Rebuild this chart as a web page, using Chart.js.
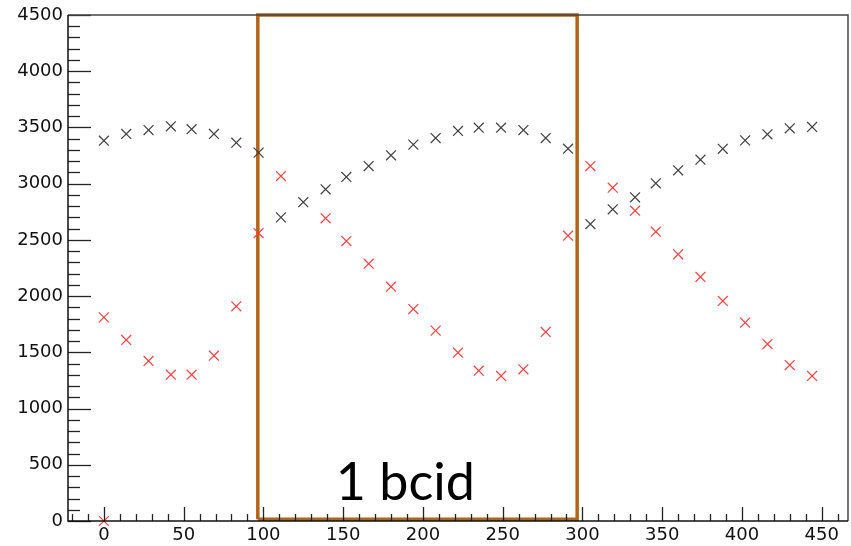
<!DOCTYPE html>
<html>
<head>
<meta charset="utf-8">
<script src="https://cdn.jsdelivr.net/npm/chart.js@4/dist/chart.umd.min.js"></script>
<style>
html,body{margin:0;padding:0;background:#fff;}
#wrap{width:851px;height:546px;position:relative;}
</style>
</head>
<body>
<div id="wrap"><canvas id="c" width="851" height="546"></canvas></div>
<script>
// ---- data ----
const blackX = [0,14,28,42,55,69,83,97,111,125,139,152,166,180,194,208,222,235,249,263,277,291,305,319,333,346,360,374,388,402,416,430,444];
const blackY = [3382,3442,3477,3510,3484,3442,3364,3276,2700,2835,2950,3060,3157,3252,3347,3406,3469,3498,3498,3477,3406,3311,2641,2772,2879,3003,3119,3213,3310,3385,3439,3492,3504];
const redX = [0,0,14,28,42,55,69,83,97,111,139,152,166,180,194,208,222,235,249,263,277,291,305,319,333,346,360,374,388,402,416,430,444];
const redY = [0,1811,1610,1423,1301,1301,1470,1909,2561,3068,2692,2490,2288,2084,1885,1693,1497,1337,1290,1349,1681,2537,3157,2964,2760,2573,2372,2170,1957,1764,1574,1387,1290];
const boxX = [96.5,96.5,296.7,296.7,96.5];
const boxY = [15,4500,4500,15,15];
const boxLabel = '1 bcid';
const xTicks = [0,50,100,150,200,250,300,350,400,450];
const yTicks = [0,500,1000,1500,2000,2500,3000,3500,4000,4500];
const xRange = [-22.5,466.5];
const yRange = [0,4500];

const pts = (xs,ys)=>xs.map((x,i)=>({x:x,y:ys[i]}));

const innerTicks = {
  id:'innerTicks',
  afterDatasetsDraw(chart){
    const ctx=chart.ctx, a=chart.chartArea;
    const xs=chart.scales.x, ys=chart.scales.y;
    ctx.save();
    ctx.strokeStyle='#222';
    ctx.lineWidth=1.3;
    const xStep=(xTicks[1]-xTicks[0])/5;
    for(let v=Math.ceil(xRange[0]/xStep)*xStep; v<=xRange[1]+1e-6; v+=xStep){
      const px=Math.round(xs.getPixelForValue(v))+0.5;
      const major=Math.abs(v/50-Math.round(v/50))<1e-6;
      const len=major?14:7;
      ctx.beginPath();ctx.moveTo(px,a.bottom);ctx.lineTo(px,a.bottom-len);ctx.stroke();
    }
    const yStep=(yTicks[1]-yTicks[0])/5;
    for(let v=yRange[0]; v<=yRange[1]+1e-6; v+=yStep){
      const py=Math.round(ys.getPixelForValue(v))+0.5;
      const major=Math.abs(v/500-Math.round(v/500))<1e-6;
      const len=major?23:12;
      ctx.beginPath();ctx.moveTo(a.left,py);ctx.lineTo(a.left+len,py);ctx.stroke();
    }
    ctx.lineWidth=1.5;
    ctx.strokeStyle='#444';
    ctx.beginPath();
    ctx.moveTo(a.left,a.top);ctx.lineTo(a.right,a.top);ctx.lineTo(a.right,a.bottom);
    ctx.stroke();
    ctx.strokeStyle='#111';
    ctx.beginPath();
    ctx.moveTo(a.left,a.top);ctx.lineTo(a.left,a.bottom);ctx.lineTo(a.right,a.bottom);
    ctx.stroke();
    ctx.fillStyle='#000';
    ctx.font='normal 52px Lato, "Open Sans", sans-serif';
    ctx.textAlign='center';
    ctx.textBaseline='alphabetic';
    ctx.fillText(boxLabel, xs.getPixelForValue(189), ys.getPixelForValue(187));
    ctx.restore();
  }
};

const fmt = v => String(v);

new Chart(document.getElementById('c'),{
  type:'scatter',
  data:{datasets:[
    {data:pts(boxX,boxY),showLine:true,borderColor:'#b1651b',borderWidth:3.5,pointRadius:0,fill:false,clip:false,order:3},
    {data:pts(blackX,blackY),pointStyle:'crossRot',pointRadius:7,borderColor:'#404040',backgroundColor:'#404040',pointBorderWidth:1.2,clip:false,order:1},
    {data:pts(redX,redY),pointStyle:'crossRot',pointRadius:7,borderColor:'#ff4040',backgroundColor:'#ff4040',pointBorderWidth:1.2,clip:false,order:2}
  ]},
  options:{
    responsive:false,animation:false,
    layout:{autoPadding:false,padding:{left:0,top:15,right:3,bottom:0}},
    plugins:{legend:{display:false},tooltip:{enabled:false}},
    scales:{
      x:{type:'linear',min:xRange[0],max:xRange[1],
        grid:{display:false,drawTicks:false},border:{display:false},
        afterBuildTicks:s=>{s.ticks=xTicks.map(v=>({value:v}));},
        afterFit:s=>{s.height=25;s.paddingLeft=0;s.paddingRight=0;},
        ticks:{padding:4,color:'#111',font:{family:'"DejaVu Sans"',size:18},maxRotation:0,autoSkip:false,callback:fmt}},
      y:{type:'linear',min:yRange[0],max:yRange[1],
        grid:{display:false,drawTicks:false},border:{display:false},
        afterBuildTicks:s=>{s.ticks=yTicks.map(v=>({value:v}));},
        afterFit:s=>{s.width=68;s.paddingTop=0;s.paddingBottom=0;},
        ticks:{padding:5,color:'#111',font:{family:'"DejaVu Sans"',size:18},autoSkip:false,callback:fmt}}
    }
  },
  plugins:[innerTicks]
});
</script>
</body>
</html>
